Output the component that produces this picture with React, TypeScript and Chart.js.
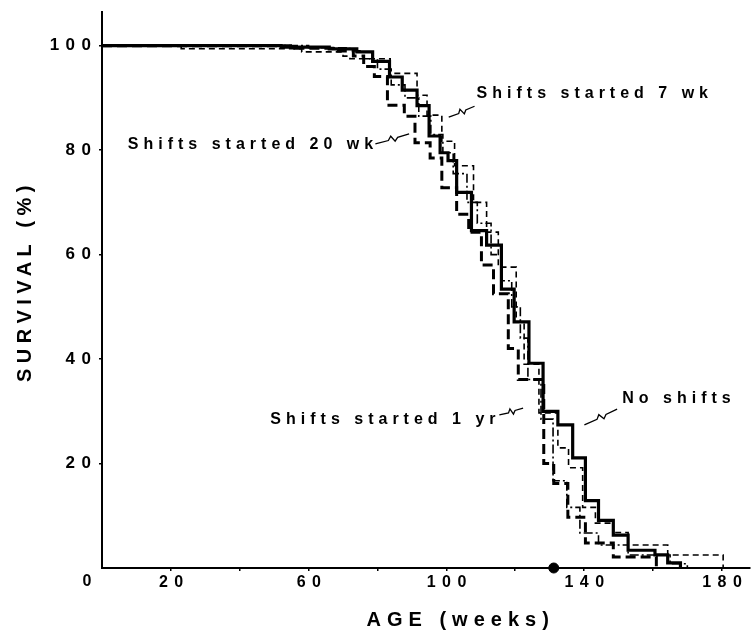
import { useEffect, useRef } from 'react';
import { Chart, registerables } from 'chart.js';

Chart.register(...registerables);

// [age (weeks), survival (%)] — value after each drop
const noShifts: number[][] = [
  [0, 100], [52, 99.7], [66, 99.4], [74, 98.8], [78.6, 97], [83.5, 94], [87.2, 91.5], [91.5, 88.5],
  [95, 82.7], [98.2, 79.5], [100.5, 78], [103, 71.9], [107.3, 64.6], [111.7, 61.8], [116, 53.4],
  [119.7, 47.1], [124, 39.2], [128.1, 30], [132.4, 27.4], [136.7, 21.1], [140.4, 12.9], [144.2, 9.1],
  [148.5, 6.3], [152.8, 3.4], [160.6, 2.5], [164.3, 1.0], [168, 0],
];
const shifts20wk: number[][] = [
  [0, 100], [56, 99.5], [68, 99], [73, 98], [76, 96], [79.1, 94.1], [82.9, 88.6], [87.8, 86.5],
  [90.9, 81.4], [95.3, 78.5], [98.7, 72.8], [103, 67.7], [106.5, 64.3], [110.2, 58], [113.7, 52.5],
  [118, 42], [120.9, 36.1], [128.3, 20], [131.2, 16.2], [135.3, 9.7], [140.4, 4.8], [148.5, 2.1], [161, 0],
];
const shifts7wk: number[][] = [
  [0, 100], [23, 99.4], [58, 98.8], [70, 98], [72, 97.5], [83.7, 94.7], [91.5, 90.5], [94.4, 86.7],
  [98.7, 81.7], [102.4, 77], [107.9, 70], [111.7, 64.3], [115.1, 57.6], [120.3, 47.1], [122.6, 39],
  [126.9, 29.7], [132.4, 23], [135.5, 19.2], [139.6, 11.6], [143.3, 8.6], [148.5, 6.8], [152.8, 4.4],
  [164.3, 2.5], [180.4, 0],
];
const shifts1yr: number[][] = [
  [0, 100], [60, 99.6], [72, 99], [76, 97.5], [80, 95.5], [84, 92.5], [88, 90], [92, 86.5], [95.5, 83],
  [99, 79.5], [102, 75.5], [106, 70], [109, 66], [113, 60], [116, 55], [119, 50], [121.5, 44],
  [123.7, 36.1], [127.5, 28.5], [131, 16.7], [135, 11.6], [138.8, 6.7], [144.2, 4.4], [152.8, 2.5],
  [165, 0.8], [170, 0],
];
const medianMarker: number[][] = [[131.2, 0]];

const xTickValues = [20, 40, 60, 80, 100, 120, 140, 160, 180];
const xTickLabels = ['20', '', '60', '', '100', '', '140', '', '180'];
const yTickValues = [20, 40, 60, 80, 100];
const yTickLabels = ['20', '40', '60', '80', '100'];

const seriesLabels = ['No shifts', 'Shifts started 20 wk', 'Shifts started 7 wk', 'Shifts started 1 yr'];
// label text positions (data units: left edge x, vertical centre y)
const labelPos: number[][] = [[151.1, 32.5], [7.5, 81], [108.8, 90.9], [48.9, 28.5]];
// leader squiggles from -> to (data units)
const leaderPos: number[][] = [
  [140.1, 27.4, 149.6, 30.4],
  [79.4, 81.2, 89.2, 83.1],
  [100.7, 86.3, 108.2, 88.4],
  [115.4, 29.3, 122.3, 30.6],
];

const FONT = '"Liberation Sans", Arial, Helvetica, sans-serif';

const toXY = (arr: number[][]) => arr.map(([x, y]) => ({ x, y }));

function squiggle(ctx: CanvasRenderingContext2D, x0: number, y0: number, x1: number, y1: number) {
  const dx = x1 - x0, dy = y1 - y0;
  const len = Math.hypot(dx, dy) || 1;
  const nx = -dy / len, ny = dx / len;
  const pt = (t: number, o: number) => [x0 + dx * t + nx * o, y0 + dy * t + ny * o];
  const pts = [pt(0, 0), pt(0.38, 0.5), pt(0.48, -3), pt(0.56, 3), pt(0.66, 0), pt(1, 0)];
  ctx.beginPath();
  ctx.moveTo(pts[0][0], pts[0][1]);
  for (let i = 1; i < pts.length; i++) ctx.lineTo(pts[i][0], pts[i][1]);
  ctx.stroke();
}

const overlay = {
  id: 'overlay',
  beforeDraw(chart: any) {
    (chart.ctx as any).letterSpacing = '6.5px';
  },
  afterDraw(chart: any) {
    const ctx = chart.ctx as CanvasRenderingContext2D;
    const xs = chart.scales.x, ys = chart.scales.y;
    ctx.save();
    ctx.fillStyle = '#000';
    ctx.strokeStyle = '#000';
    ctx.textBaseline = 'middle';
    // series labels
    ctx.font = `bold 16px ${FONT}`;
    (ctx as any).letterSpacing = '5px';
    ctx.textAlign = 'left';
    seriesLabels.forEach((t, i) => {
      ctx.fillText(t, xs.getPixelForValue(labelPos[i][0]), ys.getPixelForValue(labelPos[i][1]));
    });
    ctx.lineWidth = 1.3;
    leaderPos.forEach((p) => {
      squiggle(ctx, xs.getPixelForValue(p[0]), ys.getPixelForValue(p[1]), xs.getPixelForValue(p[2]), ys.getPixelForValue(p[3]));
    });
    // origin label
    ctx.textAlign = 'center';
    (ctx as any).letterSpacing = '0px';
    ctx.font = `bold 16px ${FONT}`;
    ctx.fillText('0', xs.left - 15, ys.bottom + 14);
    // axis titles
    ctx.font = `bold 20px ${FONT}`;
    (ctx as any).letterSpacing = '6px';
    ctx.fillText('AGE (weeks)', xs.getPixelForValue(103.3) + 3, 620);
    ctx.save();
    ctx.translate(25, 284);
    ctx.rotate(-Math.PI / 2);
    (ctx as any).letterSpacing = '5.5px';
    ctx.fillText('SURVIVAL (%)', 3, 0);
    ctx.restore();
    ctx.restore();
    (ctx as any).letterSpacing = '0px';
  },
};

export default function App() {
  const ref = useRef<HTMLCanvasElement>(null);
  useEffect(() => {
    if (!ref.current) return;
    const common = { pointRadius: 0, fill: false, borderColor: '#000', stepped: 'before' as const, tension: 0 };
    const chart = new Chart(ref.current, {
      type: 'line',
      data: {
        datasets: [
          { ...common, label: seriesLabels[0], data: toXY(noShifts), borderWidth: 3.2 },
          { ...common, label: seriesLabels[1], data: toXY(shifts20wk), borderWidth: 3, borderDash: [10, 5] },
          { ...common, label: seriesLabels[2], data: toXY(shifts7wk), borderWidth: 1.6, borderDash: [6, 4] },
          { ...common, label: seriesLabels[3], data: toXY(shifts1yr), borderWidth: 1.6, borderDash: [9, 3, 2, 3] },
          {
            label: 'median', data: toXY(medianMarker), showLine: false, pointRadius: 5,
            pointBackgroundColor: '#000', pointBorderColor: '#000', clip: false as any,
          },
        ],
      },
      options: {
        animation: false,
        responsive: false,
        layout: { padding: { top: 8, left: 0, right: 0, bottom: 0 } },
        plugins: { legend: { display: false }, tooltip: { enabled: false }, title: { display: false } },
        scales: {
          x: {
            type: 'linear',
            min: 0,
            max: 188.2,
            afterBuildTicks: (s: any) => { s.ticks = xTickValues.map((v) => ({ value: v })); },
            afterFit: (s: any) => { s.height = 68; },
            border: { color: '#000', width: 2 },
            grid: { drawOnChartArea: false, drawTicks: true, tickLength: 3, color: '#000', lineWidth: 1.5 },
            ticks: {
              autoSkip: false, maxRotation: 0, padding: 1.5, labelOffset: 3.5, color: '#000',
              font: { family: FONT, size: 16, weight: 'bold' },
              callback: (v: any) => { const i = xTickValues.indexOf(Number(v)); return i >= 0 ? xTickLabels[i] : ''; },
            },
          },
          y: {
            type: 'linear',
            min: 0,
            max: 106.5,
            afterBuildTicks: (s: any) => { s.ticks = yTickValues.map((v) => ({ value: v })); },
            afterFit: (s: any) => { s.width = 102; },
            border: { color: '#000', width: 2 },
            grid: { drawOnChartArea: false, drawTicks: true, tickLength: 3, color: '#000', lineWidth: 1.5 },
            ticks: {
              autoSkip: false, padding: 1.5, color: '#000',
              font: { family: FONT, size: 17, weight: 'bold' },
              callback: (v: any) => { const i = yTickValues.indexOf(Number(v)); return i >= 0 ? yTickLabels[i] : ''; },
            },
          },
        },
      },
      plugins: [overlay],
    });
    return () => chart.destroy();
  }, []);
  return (
    <canvas
      ref={ref}
      width={756}
      height={636}
      style={{ position: 'fixed', left: 0, top: 0, width: 756, height: 636, background: '#fff', display: 'block' }}
    />
  );
}
